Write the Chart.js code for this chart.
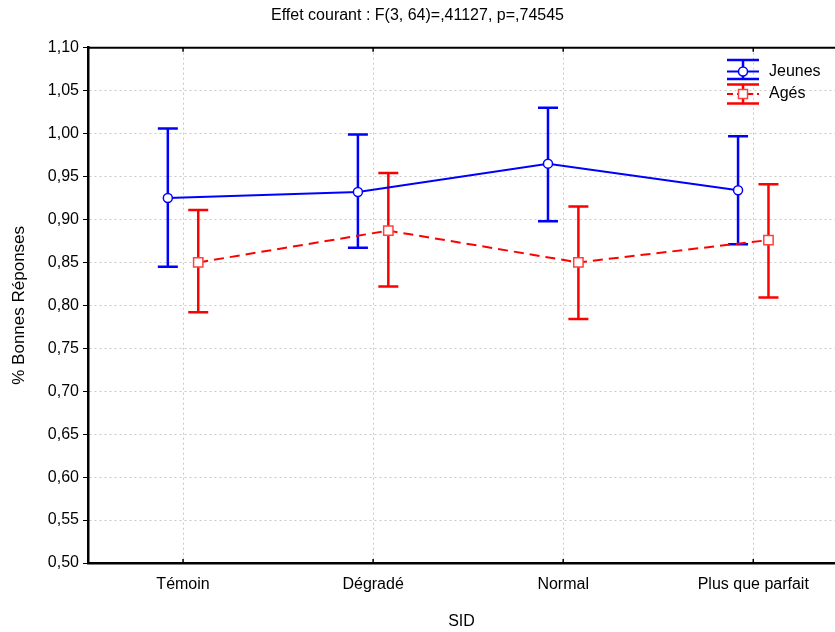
<!DOCTYPE html>
<html>
<head>
<meta charset="utf-8">
<script src="https://cdn.jsdelivr.net/npm/chart.js@4.4.0/dist/chart.umd.min.js"></script>
<style>
  html, body { margin: 0; padding: 0; background: #fff; }
</style>
</head>
<body>
<canvas id="chart" width="835" height="632"></canvas>
<script>
// Data
const categories = ['Témoin', 'Dégradé', 'Normal', 'Plus que parfait'];
const seriesNames = ['Jeunes', 'Agés'];
const jeunesMean = [0.925, 0.932, 0.965, 0.934];
const jeunesLow = [0.845, 0.867, 0.898, 0.871];
const jeunesHigh = [1.006, 0.999, 1.030, 0.997];
const agesMean = [0.850, 0.887, 0.850, 0.876];
const agesLow = [0.792, 0.822, 0.784, 0.809];
const agesHigh = [0.911, 0.954, 0.915, 0.941];
const yTicks = [0.50, 0.55, 0.60, 0.65, 0.70, 0.75, 0.80, 0.85, 0.90, 0.95, 1.00, 1.05, 1.10];

const BLUE = '#0000ff';
const RED = '#ff0000';
const FONT = 'Liberation Sans, Arial, sans-serif';
const SHIFT = 0.08; // small side offset so the two groups don't overlap

// Error bars, top border, inner x ticks and the legend
const decorPlugin = {
  id: 'decor',
  beforeDatasetsDraw(chart) {
    const ctx = chart.ctx;
    const y = chart.scales.y;
    chart.data.datasets.forEach((ds, di) => {
      const meta = chart.getDatasetMeta(di);
      ctx.save();
      ctx.strokeStyle = ds.borderColor;
      ctx.lineWidth = 2.5;
      meta.data.forEach((pt, i) => {
        const yl = y.getPixelForValue(ds.low[i]);
        const yh = y.getPixelForValue(ds.high[i]);
        ctx.beginPath();
        ctx.moveTo(pt.x, yl); ctx.lineTo(pt.x, yh);
        ctx.moveTo(pt.x - 10, yl); ctx.lineTo(pt.x + 10, yl);
        ctx.moveTo(pt.x - 10, yh); ctx.lineTo(pt.x + 10, yh);
        ctx.stroke();
      });
      ctx.restore();
    });
  },
  afterDraw(chart) {
    const ctx = chart.ctx;
    const a = chart.chartArea;
    const x = chart.scales.x;
    ctx.save();
    // top border
    ctx.strokeStyle = '#000';
    ctx.lineWidth = 2;
    ctx.beginPath();
    ctx.moveTo(a.left, a.top); ctx.lineTo(a.right, a.top);
    ctx.stroke();
    // small inner ticks on x axis
    ctx.lineWidth = 1.5;
    x.ticks.forEach(t => {
      const px = x.getPixelForValue(t.value);
      ctx.beginPath();
      ctx.moveTo(px, a.bottom); ctx.lineTo(px, a.bottom - 4);
      ctx.moveTo(px, a.top); ctx.lineTo(px, a.top + 4);
      ctx.stroke();
    });

    // legend
    const lx = 743, half = 16;
    const rows = [
      { name: seriesNames[0], color: BLUE, top: 60, mid: 71.5, bot: 79, dash: [], shape: 'circle' },
      { name: seriesNames[1], color: RED, top: 84.5, mid: 94, bot: 103.5, dash: [6, 4], shape: 'rect' }
    ];
    rows.forEach(r => {
      ctx.strokeStyle = r.color;
      ctx.lineWidth = 2.5;
      ctx.setLineDash([]);
      ctx.beginPath();
      ctx.moveTo(lx - half, r.top); ctx.lineTo(lx + half, r.top);
      ctx.moveTo(lx - half, r.bot); ctx.lineTo(lx + half, r.bot);
      ctx.moveTo(lx, r.top); ctx.lineTo(lx, r.bot);
      ctx.stroke();
      ctx.lineWidth = 2;
      ctx.setLineDash(r.dash);
      ctx.beginPath();
      ctx.moveTo(lx - half, r.mid); ctx.lineTo(lx + half, r.mid);
      ctx.stroke();
      ctx.setLineDash([]);
      ctx.fillStyle = '#fff';
      ctx.lineWidth = 1.5;
      ctx.beginPath();
      if (r.shape === 'circle') {
        ctx.arc(lx, r.mid, 4.5, 0, Math.PI * 2);
      } else {
        ctx.rect(lx - 4.5, r.mid - 4.5, 9, 9);
        ctx.strokeStyle = '#ff4040';
      }
      ctx.fill();
      ctx.stroke();
      ctx.fillStyle = '#000';
      ctx.font = '16px ' + FONT;
      ctx.textBaseline = 'middle';
      ctx.fillText(r.name, 769, r.mid);
    });
    ctx.restore();
  }
};

document.addEventListener('DOMContentLoaded', function() {
  const ctx = document.getElementById('chart').getContext('2d');

  new Chart(ctx, {
    type: 'line',
    data: {
      datasets: [{
        label: seriesNames[0],
        data: jeunesMean.map((v, i) => ({ x: i - SHIFT, y: v })),
        low: jeunesLow,
        high: jeunesHigh,
        borderColor: BLUE,
        borderWidth: 2,
        pointStyle: 'circle',
        pointRadius: 4.5,
        pointBackgroundColor: '#fff',
        pointBorderColor: BLUE,
        pointBorderWidth: 1.5,
        tension: 0,
        order: 1
      }, {
        label: seriesNames[1],
        data: agesMean.map((v, i) => ({ x: i + SHIFT, y: v })),
        low: agesLow,
        high: agesHigh,
        borderColor: RED,
        borderWidth: 2,
        borderDash: [10, 6],
        pointStyle: 'rect',
        pointRadius: 6.6,
        pointBackgroundColor: '#fff',
        pointBorderColor: '#ff4040',
        pointBorderWidth: 1.5,
        tension: 0,
        order: 0
      }]
    },
    options: {
      responsive: false,
      animation: false,
      devicePixelRatio: 1,
      layout: { padding: 0, autoPadding: false },
      scales: {
        x: {
          type: 'linear',
          min: -0.5,
          max: 3.43,
          afterBuildTicks: (scale) => { scale.ticks = categories.map((c, i) => ({ value: i })); },
          afterFit: (scale) => { scale.height = 69; scale.paddingRight = 0; scale.paddingLeft = 0; },
          ticks: {
            color: '#000',
            font: { family: FONT, size: 16 },
            padding: 12,
            maxRotation: 0,
            callback: (v) => categories[v]
          },
          grid: { color: '#c8c8c8', drawTicks: false },
          border: { color: '#000', width: 2.5, dash: [2, 3] },
          title: {
            display: true,
            text: 'SID',
            color: '#000',
            font: { family: FONT, size: 16 },
            padding: { top: 4, bottom: 1 }
          }
        },
        y: {
          min: 0.5,
          max: 1.1,
          afterBuildTicks: (scale) => { scale.ticks = yTicks.map(v => ({ value: v })); },
          afterFit: (scale) => { scale.width = 88; },
          ticks: {
            color: '#000',
            font: { family: FONT, size: 16 },
            padding: 4,
            callback: (v) => v.toFixed(2).replace('.', ',')
          },
          grid: { color: '#c8c8c8', tickColor: '#000', tickLength: 5, tickBorderDash: [] },
          border: { color: '#000', width: 2.5, dash: [2, 3] },
          title: {
            display: true,
            text: '% Bonnes Réponses',
            color: '#000',
            font: { family: FONT, size: 17 },
            padding: { top: 9, bottom: 0 }
          }
        }
      },
      plugins: {
        legend: { display: false },
        tooltip: { enabled: false },
        title: {
          display: true,
          text: 'Effet courant : F(3, 64)=,41127, p=,74545',
          color: '#000',
          font: { family: FONT, size: 16, weight: 'normal' },
          padding: { top: 6, bottom: 22.5 }
        }
      }
    },
    plugins: [decorPlugin]
  });
});
</script>
</body>
</html>
